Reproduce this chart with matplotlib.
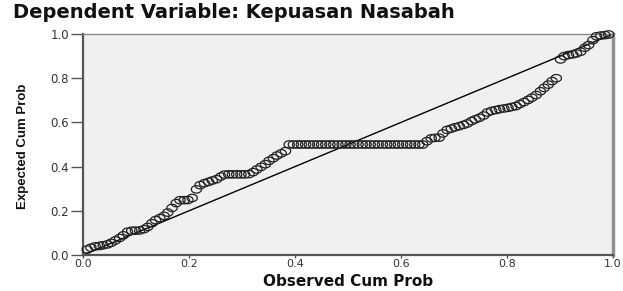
import numpy as np
import matplotlib
matplotlib.use("Agg")
import matplotlib.pyplot as plt
from matplotlib.path import Path

title = "Dependent Variable: Kepuasan Nasabah"
xlabel = "Observed Cum Prob"
ylabel = "Expected Cum Prob"
tick_vals = [0.0, 0.2, 0.4, 0.6, 0.8, 1.0]
tick_labels = ["0.0", "0.2", "0.4", "0.6", "0.8", "1.0"]

observed = [
    0.008, 0.015, 0.023, 0.031, 0.038, 0.046, 0.053, 0.061, 0.069, 0.076,
    0.084, 0.092, 0.099, 0.107, 0.115, 0.122, 0.130, 0.137, 0.145, 0.153,
    0.160, 0.168, 0.176, 0.183, 0.191, 0.198, 0.206, 0.214, 0.221, 0.229,
    0.237, 0.244, 0.252, 0.260, 0.267, 0.275, 0.282, 0.290, 0.298, 0.305,
    0.313, 0.321, 0.328, 0.336, 0.344, 0.351, 0.359, 0.366, 0.374, 0.382,
    0.389, 0.397, 0.405, 0.412, 0.420, 0.427, 0.435, 0.443, 0.450, 0.458,
    0.466, 0.473, 0.481, 0.489, 0.496, 0.504, 0.511, 0.519, 0.527, 0.534,
    0.542, 0.550, 0.557, 0.565, 0.573, 0.580, 0.588, 0.595, 0.603, 0.611,
    0.618, 0.626, 0.634, 0.641, 0.649, 0.657, 0.664, 0.672, 0.679, 0.687,
    0.695, 0.702, 0.710, 0.718, 0.725, 0.733, 0.740, 0.748, 0.756, 0.763,
    0.771, 0.779, 0.786, 0.794, 0.802, 0.809, 0.817, 0.824, 0.832, 0.840,
    0.847, 0.855, 0.863, 0.870, 0.878, 0.885, 0.893, 0.901, 0.908, 0.916,
    0.924, 0.931, 0.939, 0.947, 0.954, 0.962, 0.969, 0.977, 0.985, 0.992,
]

expected = [
    0.025, 0.033, 0.039, 0.041, 0.044, 0.048, 0.055, 0.066, 0.077, 0.089,
    0.105, 0.110, 0.110, 0.111, 0.117, 0.127, 0.144, 0.158, 0.167, 0.177,
    0.192, 0.213, 0.235, 0.248, 0.248, 0.249, 0.258, 0.297, 0.316, 0.325,
    0.331, 0.337, 0.343, 0.355, 0.364, 0.365, 0.365, 0.365, 0.365, 0.365,
    0.366, 0.375, 0.387, 0.399, 0.411, 0.426, 0.438, 0.450, 0.460, 0.470,
    0.500, 0.500, 0.500, 0.500, 0.500, 0.500, 0.500, 0.500, 0.500, 0.500,
    0.500, 0.500, 0.500, 0.500, 0.500, 0.500, 0.500, 0.500, 0.500, 0.500,
    0.500, 0.500, 0.500, 0.500, 0.500, 0.500, 0.500, 0.500, 0.500, 0.500,
    0.500, 0.500, 0.500, 0.500, 0.515, 0.528, 0.530, 0.531, 0.550, 0.566,
    0.572, 0.578, 0.583, 0.589, 0.595, 0.606, 0.614, 0.621, 0.631, 0.645,
    0.652, 0.656, 0.660, 0.663, 0.666, 0.670, 0.674, 0.683, 0.692, 0.702,
    0.712, 0.724, 0.741, 0.756, 0.771, 0.787, 0.800, 0.885, 0.900, 0.905,
    0.908, 0.912, 0.920, 0.938, 0.950, 0.972, 0.990, 0.993, 0.995, 0.998,
]

ref_line = [0.0, 1.0]

# elliptical open marker (slightly wider than tall)
t = np.linspace(0, 2 * np.pi, 40)
ell = Path(np.column_stack([np.cos(t), 0.72 * np.sin(t)]), closed=True)

fig = plt.figure(figsize=(6.23, 2.91), dpi=100)
fig.patch.set_facecolor("white")
ax = fig.add_axes([83 / 623, 1 - 255 / 291, 530 / 623, 221 / 291])
ax.set_facecolor("#f0f0f0")

ax.plot(ref_line, ref_line, color="black", lw=1.0, zorder=2)
ax.scatter(observed, expected, marker=ell, s=55, facecolors="none",
           edgecolors="#222222", linewidths=0.9, zorder=3, clip_on=False)

ax.set_xlim(0, 1)
ax.set_ylim(0, 1)
ax.set_xticks(tick_vals)
ax.set_xticklabels(tick_labels)
ax.set_yticks(tick_vals)
ax.set_yticklabels(tick_labels)

for side in ["left", "bottom"]:
    ax.spines[side].set_color("#555555")
    ax.spines[side].set_linewidth(1.6)
ax.spines["top"].set_color("#888888")
ax.spines["top"].set_linewidth(1.0)
ax.spines["right"].set_color("#909090")
ax.spines["right"].set_linewidth(2.5)

ax.tick_params(axis="y", direction="out", length=9, width=1.0, color="#555555",
               labelsize=8.5, labelcolor="#333333", pad=1)
ax.tick_params(axis="x", direction="out", length=2.5, width=1.0, color="#555555",
               labelsize=8, labelcolor="#333333", pad=0.5)
for lab in ax.get_xticklabels() + ax.get_yticklabels():
    lab.set_family("DejaVu Sans")

fig.text(13 / 623, 1 - 13 / 291, title, fontsize=14, fontweight="bold",
         family="DejaVu Sans", ha="left", va="center", color="#111111")
fig.text(348 / 623, 1.5 / 291, xlabel, fontsize=11, fontweight="bold",
         family="DejaVu Sans", ha="center", va="bottom", color="#111111")
fig.text(23 / 623, 1 - 146 / 291, ylabel, fontsize=9.5, fontweight="bold",
         family=["Liberation Sans", "DejaVu Sans"], rotation=90, ha="center",
         va="center", color="#111111")

fig.savefig("out.png", dpi=100)
